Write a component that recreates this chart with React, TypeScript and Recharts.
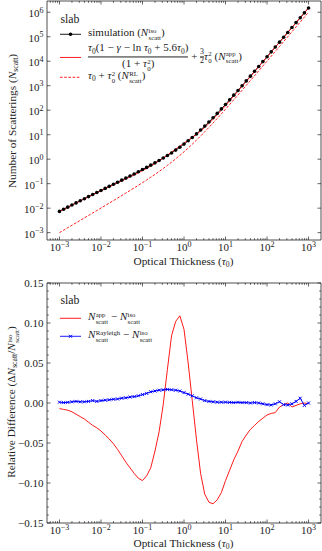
import React from "react";
import { LineChart, Line, XAxis, YAxis } from "recharts";

const FONT = '"Liberation Serif", "DejaVu Serif", serif';
const INK = "#222";
const RED = "#ff0000";
const BLUE = "#0000ff";

// optical thickness, 10 samples per decade
const tau = [
  0.001, 0.00126, 0.00158, 0.002, 0.00251, 0.00316, 0.00398, 0.00501, 0.00631, 0.00794,
  0.01, 0.0126, 0.0158, 0.02, 0.0251, 0.0316, 0.0398, 0.0501, 0.0631, 0.0794,
  0.1, 0.126, 0.158, 0.2, 0.251, 0.316, 0.398, 0.501, 0.631, 0.794,
  1, 1.26, 1.58, 2, 2.51, 3.16, 3.98, 5.01, 6.31, 7.94,
  10, 12.6, 15.8, 20, 25.1, 31.6, 39.8, 50.1, 63.1, 79.4,
  100, 126, 158, 200, 251, 316, 398, 501, 631, 794,
  1000,
];

// simulation, N_iso
const nSim = [
  0.00739, 0.00902, 0.011, 0.0134, 0.0164, 0.02, 0.0243, 0.0296, 0.0359, 0.0436,
  0.0528, 0.0641, 0.0777, 0.0941, 0.114, 0.139, 0.169, 0.205, 0.25, 0.307,
  0.377, 0.462, 0.571, 0.707, 0.885, 1.11, 1.41, 1.8, 2.35, 3.09,
  4.13, 5.62, 7.73, 10.8, 15.5, 22.4, 32.9, 49, 73.9, 113,
  172, 265, 411, 641, 1000, 1570, 2460, 3880, 6120, 9650,
  15200, 24100, 38100, 60000, 94800, 150000, 239000, 378000, 598000, 946000,
  1500000,
];

// approximation, N_app
const nApp = [
  0.00734, 0.00895, 0.0109, 0.0133, 0.0161, 0.0196, 0.0238, 0.0288, 0.0349, 0.0422,
  0.051, 0.0615, 0.0742, 0.0893, 0.108, 0.13, 0.156, 0.189, 0.228, 0.278,
  0.34, 0.42, 0.525, 0.665, 0.853, 1.11, 1.47, 1.95, 2.59, 3.43,
  4.51, 5.9, 7.76, 10.3, 14.1, 19.9, 28.8, 42.8, 65, 100,
  155, 243, 382, 603, 952, 1510, 2380, 3770, 5980, 9470,
  15000, 23800, 37700, 59700, 94600, 150000, 238000, 377000, 597000, 946000,
  1500000,
];

// random-walk limit, N_RL
const nRL = [
  0.001, 0.00126, 0.00159, 0.002, 0.00252, 0.00317, 0.004, 0.00504, 0.00635, 0.00801,
  0.0101, 0.0127, 0.0161, 0.0204, 0.0258, 0.0326, 0.0414, 0.0526, 0.0671, 0.0857,
  0.11, 0.142, 0.184, 0.239, 0.314, 0.416, 0.557, 0.752, 1.03, 1.43,
  2, 2.84, 4.1, 5.98, 8.82, 13.2, 19.8, 30.1, 46.1, 71,
  110, 171, 267, 418, 656, 1030, 1620, 2560, 4040, 6390,
  10100, 16000, 25300, 40000, 63300, 100000, 159000, 252000, 399000, 632000,
  1000000,
];

// relative differences
const dApp = [
  -0.007, -0.008, -0.009, -0.011, -0.014, -0.017, -0.02, -0.024, -0.028, -0.031,
  -0.035, -0.04, -0.045, -0.051, -0.058, -0.066, -0.074, -0.081, -0.088, -0.094,
  -0.097, -0.091, -0.081, -0.06, -0.036, -0.002, 0.042, 0.084, 0.102, 0.109,
  0.092, 0.05, 0.003, -0.046, -0.088, -0.114, -0.124, -0.126, -0.121, -0.112,
  -0.097, -0.084, -0.071, -0.06, -0.048, -0.04, -0.033, -0.028, -0.023, -0.019,
  -0.015, -0.013, -0.012, -0.005, -0.002, 0, -0.005, -0.003, -0.001, 0,
  -0.001,
];

const dRay = [
  0.001, 0.0005, 0.0008, 0.0015, 0.002, 0.0015, 0.0015, 0.002, 0.003, 0.002,
  0.003, 0.0035, 0.004, 0.0047, 0.005, 0.006, 0.0065, 0.0075, 0.008, 0.009,
  0.0105, 0.012, 0.014, 0.015, 0.016, 0.0165, 0.017, 0.0165, 0.016, 0.015,
  0.013, 0.011, 0.009, 0.0065, 0.005, 0.003, 0.002, 0.0015, 0.001, 0.001,
  0.001, 0.0008, 0.0005, 0.0008, 0.0005, 0.0005, 0, 0.0005, 0, -0.001,
  -0.002, -0.0025, -0.001, 0.0015, -0.002, -0.0025, -0.001, 0.002, 0.006, -0.003,
  0,
];

const decades = [0.0001, 0.001, 0.01, 0.1, 1, 10, 100, 1000];
const subs = [1, 2, 3, 4, 5, 6, 7, 8, 9];
const xDomain = [0.000501, 1995];
const xTicks = decades
  .flatMap((d) => subs.map((s) => s * d))
  .filter((v) => v >= xDomain[0] && v <= xDomain[1]);

const nDomain = [0.000501, 2880000];
const nTicks = [0.001, 0.01, 0.1, 1, 10, 100, 1000, 10000, 100000, 1000000];

const dDomain = [-0.15, 0.15];
const dTicks = [
  -0.15, -0.14, -0.13, -0.12, -0.11, -0.1, -0.09, -0.08, -0.07, -0.06, -0.05, -0.04, -0.03,
  -0.02, -0.01, 0, 0.01, 0.02, 0.03, 0.04, 0.05, 0.06, 0.07, 0.08, 0.09, 0.1, 0.11, 0.12,
  0.13, 0.14, 0.15,
];

const topRows = tau.map((t, i) => ({ tau: t, sim: nSim[i], app: nApp[i], rl: nRL[i] }));
const botRows = tau.map((t, i) => ({ tau: t, app: dApp[i], ray: dRay[i] }));

const isPow10 = (v: number) => Math.abs(Math.log10(v) - Math.round(Math.log10(v))) < 1e-6;
const signed = (n: number) => (n < 0 ? "\u2212" + Math.abs(n) : String(n));
const MAJ = 3.5;
const MIN = 1.8;
const TICK_FS = 11;
const SUP_FS = 8;

function LogTickX(props: any) {
  const { x, y, payload, side } = props;
  const v = payload.value;
  const major = isPow10(v);
  const len = major ? MAJ : MIN;
  const dir = side === "top" ? 1 : -1;
  return (
    <g>
      <line x1={x} x2={x} y1={y} y2={y + dir * len} stroke={INK} strokeWidth={0.7} />
      {major && side !== "top" && (
        <text x={x} y={y + 11} textAnchor="middle" fontSize={TICK_FS} fill={INK} fontFamily={FONT}>
          10
          <tspan dy={-4.5} fontSize={SUP_FS}>
            {signed(Math.round(Math.log10(v)))}
          </tspan>
        </text>
      )}
    </g>
  );
}

function LogTickY(props: any) {
  const { x, y, payload, side } = props;
  const v = payload.value;
  const dir = side === "right" ? -1 : 1;
  return (
    <g>
      <line x1={x} x2={x + dir * MAJ} y1={y} y2={y} stroke={INK} strokeWidth={0.7} />
      {side !== "right" && (
        <text x={x - 3.5} y={y + 5} textAnchor="end" fontSize={TICK_FS} fill={INK} fontFamily={FONT}>
          10
          <tspan dy={-4.5} fontSize={SUP_FS}>
            {signed(Math.round(Math.log10(v)))}
          </tspan>
        </text>
      )}
    </g>
  );
}

function LinTickY(props: any) {
  const { x, y, payload, side } = props;
  const v = payload.value;
  const major = Math.abs(v * 20 - Math.round(v * 20)) < 1e-6;
  const dir = side === "right" ? -1 : 1;
  const txt = (v < -1e-9 ? "\u2212" : "") + Math.abs(v).toFixed(2);
  return (
    <g>
      <line x1={x} x2={x + dir * (major ? MAJ : MIN)} y1={y} y2={y} stroke={INK} strokeWidth={0.7} />
      {major && side !== "right" && (
        <text x={x - 3.5} y={y + 3.8} textAnchor="end" fontSize={TICK_FS} fill={INK} fontFamily={FONT}>
          {txt}
        </text>
      )}
    </g>
  );
}

const simDot = (p: any) => <circle key={p.index} cx={p.cx} cy={p.cy} r={1.8} fill="#000" />;
const crossDot = (p: any) => (
  <path
    key={p.index}
    d={`M${p.cx - 1.5},${p.cy - 1.5}L${p.cx + 1.5},${p.cy + 1.5}M${p.cx - 1.5},${p.cy + 1.5}L${p.cx + 1.5},${p.cy - 1.5}`}
    stroke={BLUE}
    strokeWidth={1}
  />
);

const axisLine = { stroke: INK, strokeWidth: 0.8 };

function TopChart() {
  return (
    <LineChart width={322} height={270} data={topRows} margin={{ top: 0, right: 0, bottom: 0, left: 0 }}>
      <XAxis xAxisId="b" dataKey="tau" type="number" scale="log" domain={xDomain} allowDataOverflow
        ticks={xTicks} interval={0} height={30} tickSize={0} tickMargin={0} tickLine={false}
        axisLine={axisLine} tick={<LogTickX side="bottom" />} />
      <XAxis xAxisId="t" orientation="top" dataKey="tau" type="number" scale="log" domain={xDomain}
        allowDataOverflow ticks={xTicks} interval={0} height={1} tickSize={0} tickMargin={0}
        tickLine={false} axisLine={axisLine} tick={<LogTickX side="top" />} />
      <YAxis yAxisId="l" type="number" scale="log" domain={nDomain} allowDataOverflow ticks={nTicks}
        interval={0} width={47} tickSize={0} tickMargin={0} tickLine={false} axisLine={axisLine}
        tick={<LogTickY side="left" />} />
      <YAxis yAxisId="r" orientation="right" type="number" scale="log" domain={nDomain} allowDataOverflow
        ticks={nTicks} interval={0} width={1} tickSize={0} tickMargin={0} tickLine={false}
        axisLine={axisLine} tick={<LogTickY side="right" />} />
      <Line xAxisId="b" yAxisId="l" dataKey="sim" type="linear" stroke="#000" strokeWidth={0.9}
        dot={simDot} activeDot={false} isAnimationActive={false} />
      <Line xAxisId="b" yAxisId="l" dataKey="app" type="linear" stroke={RED} strokeWidth={0.9}
        dot={false} activeDot={false} isAnimationActive={false} />
      <Line xAxisId="b" yAxisId="l" dataKey="rl" type="linear" stroke={RED} strokeWidth={0.9}
        strokeDasharray="2.6 1.6" dot={false} activeDot={false} isAnimationActive={false} />
    </LineChart>
  );
}

function BottomChart() {
  return (
    <LineChart width={322} height={281} data={botRows} margin={{ top: 0, right: 0, bottom: 0, left: 0 }}>
      <XAxis xAxisId="b" dataKey="tau" type="number" scale="log" domain={xDomain} allowDataOverflow
        ticks={xTicks} interval={0} height={28} tickSize={0} tickMargin={0} tickLine={false}
        axisLine={axisLine} tick={<LogTickX side="bottom" />} />
      <XAxis xAxisId="t" orientation="top" dataKey="tau" type="number" scale="log" domain={xDomain}
        allowDataOverflow ticks={xTicks} interval={0} height={13} tickSize={0} tickMargin={0}
        tickLine={false} axisLine={axisLine} tick={<LogTickX side="top" />} />
      <YAxis yAxisId="l" type="number" domain={dDomain} allowDataOverflow ticks={dTicks} interval={0}
        width={47} tickSize={0} tickMargin={0} tickLine={false} axisLine={axisLine}
        tick={<LinTickY side="left" />} />
      <YAxis yAxisId="r" orientation="right" type="number" domain={dDomain} allowDataOverflow
        ticks={dTicks} interval={0} width={1} tickSize={0} tickMargin={0} tickLine={false}
        axisLine={axisLine} tick={<LinTickY side="right" />} />
      <Line xAxisId="b" yAxisId="l" dataKey="app" type="linear" stroke={RED} strokeWidth={0.9}
        dot={false} activeDot={false} isAnimationActive={false} />
      <Line xAxisId="b" yAxisId="l" dataKey="ray" type="linear" stroke={BLUE} strokeWidth={1}
        dot={crossDot} activeDot={false} isAnimationActive={false} />
    </LineChart>
  );
}

const Sub = ({ children }: any) => (
  <span style={{ fontSize: "0.68em", verticalAlign: "-0.28em" }}>{children}</span>
);
const SupSub = ({ sup, sub }: any) => (
  <span style={{ display: "inline-flex", flexDirection: "column", fontSize: "0.62em", lineHeight: 1.05,
    verticalAlign: "0.42em", marginLeft: "0.05em" }}>
    <span>{sup}</span>
    <span>{sub}</span>
  </span>
);
const T0 = () => (<><i>τ</i><Sub>0</Sub></>);
const T0sq = () => (<><i>τ</i><SupSub sup="2" sub="0" /></>);
const N = ({ sup, sub = "scatt" }: any) => (<><i>N</i>{sup ? <SupSub sup={sup} sub={sub} /> : <Sub>{sub}</Sub>}</>);

function Sample({ color, dash, marker }: any) {
  return (
    <svg width={21} height={8} style={{ marginRight: 7, flex: "none" }}>
      <line x1={0} x2={21} y1={4} y2={4} stroke={color} strokeWidth={0.9} strokeDasharray={dash} />
      {marker === "o" && <circle cx={10.5} cy={4} r={1.8} fill={color} />}
      {marker === "x" && (
        <path d="M9,2.5L12,5.5M9,5.5L12,2.5" stroke={color} strokeWidth={1} />
      )}
    </svg>
  );
}

function Row({ top, children, sample }: any) {
  return (
    <div style={{ position: "absolute", left: 60, top, transform: "translateY(-50%)", display: "flex",
      alignItems: "center", whiteSpace: "nowrap", fontSize: 11, color: INK }}>
      {sample}
      <span>{children}</span>
    </div>
  );
}

const abs = (left: number, top: number, extra: any = {}) => ({
  position: "absolute" as const, left, top, transform: "translate(-50%, -50%)", whiteSpace: "nowrap" as const,
  color: INK, ...extra,
});

export default function App() {
  return (
    <div style={{ position: "absolute", left: 0, top: 0, width: 322, height: 551, background: "#fff",
      overflow: "hidden", fontFamily: FONT }}>
      <div style={{ position: "absolute", left: 0, top: 0 }}><TopChart /></div>
      <div style={{ position: "absolute", left: 0, top: 270 }}><BottomChart /></div>

      <div style={abs(12.5, 121, { transform: "translate(-50%, -50%) rotate(-90deg)", fontSize: 11.3 })}>
        Number of Scatterings (<N />)
      </div>
      <div style={abs(12.5, 402, { transform: "translate(-50%, -50%) rotate(-90deg)", fontSize: 11.3 })}>
        Relative Difference (Δ<N />/<N sup="iso" />)
      </div>
      <div style={abs(183.5, 261.5, { fontSize: 11.3 })}>Optical Thickness (<T0 />)</div>
      <div style={abs(183.5, 544, { fontSize: 11.3 })}>Optical Thickness (<T0 />)</div>

      <div style={abs(70, 18.5, { fontSize: 11.8 })}>slab</div>
      <Row top={34} sample={<Sample color="#000" marker="o" />}>
        simulation (<N sup="iso" />)
      </Row>
      <Row top={57} sample={<Sample color={RED} />}>
        <span style={{ display: "inline-flex", flexDirection: "column", alignItems: "center",
          verticalAlign: "middle", lineHeight: 1.15 }}>
          <span><T0 />(1 − <i>γ</i> − ln <T0 /> + 5.6<T0 />)</span>
          <span style={{ borderTop: `0.7px solid ${INK}`, alignSelf: "stretch", textAlign: "center" }}>
            (1 + <T0sq />)
          </span>
        </span>
        {" + "}
        <span style={{ display: "inline-flex", flexDirection: "column", alignItems: "center",
          verticalAlign: "middle", fontSize: "0.72em", lineHeight: 1.05 }}>
          <span>3</span>
          <span style={{ borderTop: `0.6px solid ${INK}` }}>2</span>
        </span>
        <T0sq /> (<N sup="app" />)
      </Row>
      <Row top={77} sample={<Sample color={RED} dash="2.6 1.6" />}>
        <T0 /> + <T0sq /> (<N sup="RL" />)
      </Row>

      <div style={abs(70, 300, { fontSize: 11.8 })}>slab</div>
      <Row top={318} sample={<Sample color={RED} />}>
        <N sup="app" /> − <N sup="iso" />
      </Row>
      <Row top={336} sample={<Sample color={BLUE} marker="x" />}>
        <N sup="Rayleigh" /> − <N sup="iso" />
      </Row>
    </div>
  );
}
